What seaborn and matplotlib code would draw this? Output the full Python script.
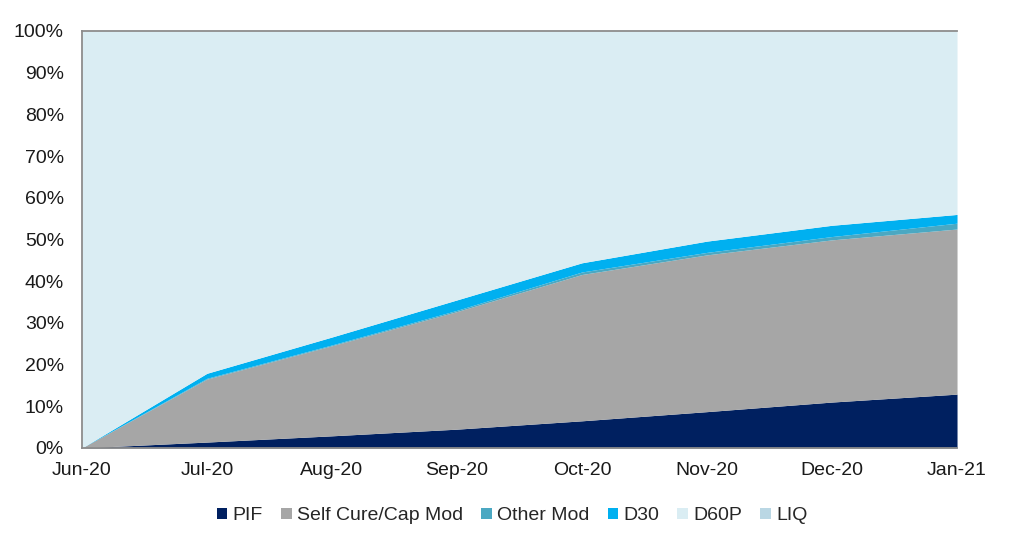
import numpy as np
import pandas as pd
import matplotlib
matplotlib.use("Agg")
import matplotlib.pyplot as plt
import seaborn as sns
from matplotlib.patches import Patch
from matplotlib.ticker import PercentFormatter

# data (percent of loans)
months = ["Jun-20", "Jul-20", "Aug-20", "Sep-20", "Oct-20", "Nov-20", "Dec-20", "Jan-21"]
pif = [0, 1.4, 2.9, 4.5, 6.5, 8.7, 11.0, 12.9]
self_cure = [0, 15.1, 21.6, 28.2, 35.1, 37.6, 38.9, 39.6]
other_mod = [0, 0.2, 0.2, 0.3, 0.6, 0.6, 0.8, 1.4]
d30 = [0, 1.2, 1.9, 2.5, 2.2, 2.7, 2.7, 2.1]
d60p = [100, 82.1, 73.4, 64.5, 55.6, 50.4, 46.6, 44.0]
liq = [0, 0, 0, 0, 0, 0, 0, 0]

series = ["PIF", "Self Cure/Cap Mod", "Other Mod", "D30", "D60P", "LIQ"]
colors = ["#002060", "#A6A6A6", "#4BA8C2", "#00B0F0", "#DAEDF3", "#BAD7E4"]

df = pd.DataFrame({
    "month": months,
    "PIF": pif,
    "Self Cure/Cap Mod": self_cure,
    "Other Mod": other_mod,
    "D30": d30,
    "D60P": d60p,
    "LIQ": liq,
})

sns.set_style("white")
plt.rcParams["font.family"] = ["Liberation Sans", "DejaVu Sans"]

fig = plt.figure(figsize=(10.24, 5.39), dpi=100)
ax = fig.add_axes([0.080, 0.169, 0.8546, 0.7735])

x = np.arange(len(months))
ax.stackplot(x, *[df[s].values for s in series], colors=colors, linewidth=0)

ax.set_xlim(0, len(months) - 1)
ax.set_ylim(0, 100)
ax.set_xticks(x)
ax.set_xticklabels(months)
ax.set_yticks(np.arange(0, 101, 10))
ax.yaxis.set_major_formatter(PercentFormatter(decimals=0))

for side in ["left", "bottom", "top"]:
    ax.spines[side].set_color("#8C8C8C")
    ax.spines[side].set_linewidth(1.3)
ax.spines["right"].set_visible(False)
ax.tick_params(axis="both", direction="out", length=5, width=1.1, color="#8C8C8C",
               labelsize=14, labelcolor="#1A1A1A")
ax.tick_params(axis="x", pad=5)
ax.tick_params(axis="y", pad=8)

handles = [Patch(facecolor=c, edgecolor="none", label=s) for s, c in zip(series, colors)]
fig.legend(handles=handles, loc="center", bbox_to_anchor=(0.500, 0.043), ncol=6,
           frameon=False, fontsize=14, handlelength=0.55, handleheight=0.55,
           handletextpad=0.25, columnspacing=0.95)

fig.savefig("out.png", dpi=100)
